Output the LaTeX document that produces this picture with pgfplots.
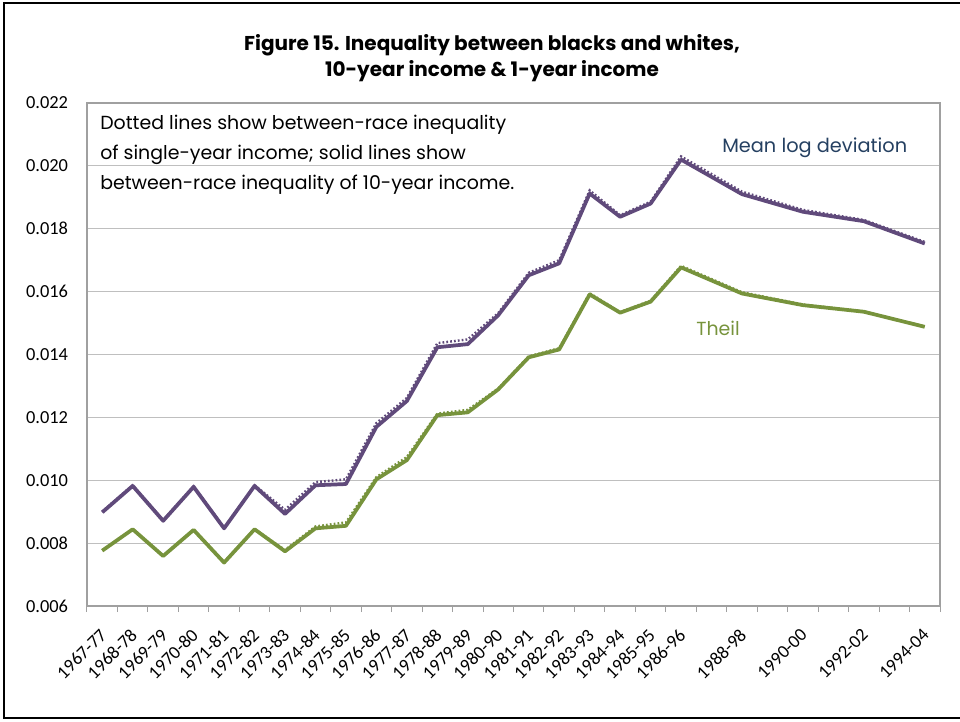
\documentclass[border=0pt]{standalone}
\usepackage{pgfplots}
\pgfplotsset{compat=1.18}
\usepackage{fontspec}
\setmainfont{Carlito}
\newfontfamily\geo{Poppins}
\definecolor{mldpurple}{HTML}{604A7B}
\definecolor{theilgreen}{HTML}{77933C}
\definecolor{navy}{HTML}{254061}
\definecolor{gridgray}{HTML}{BFBFBF}
\definecolor{axisgray}{HTML}{A0A0A0}

\pgfplotstableread{
year mld mlddot theil theildot
1967 0.00898 0.00900 0.00776 0.00777
1968 0.00982 0.00984 0.00844 0.00845
1969 0.00871 0.00873 0.00759 0.00760
1970 0.00979 0.00981 0.00842 0.00843
1971 0.00847 0.00849 0.00738 0.00739
1972 0.00982 0.00984 0.00844 0.00845
1973 0.00893 0.00906 0.00774 0.00778
1974 0.00984 0.00994 0.00847 0.00853
1975 0.00988 0.01003 0.00855 0.00866
1976 0.01170 0.01182 0.01003 0.01010
1977 0.01252 0.01262 0.01064 0.01074
1978 0.01423 0.01436 0.01207 0.01212
1979 0.01433 0.01448 0.01216 0.01224
1980 0.01525 0.01532 0.01289 0.01292
1981 0.01652 0.01660 0.01391 0.01394
1982 0.01690 0.01700 0.01416 0.01420
1983 0.01912 0.01922 0.01591 0.01595
1984 0.01838 0.01843 0.01533 0.01535
1985 0.01880 0.01886 0.01568 0.01571
1986 0.02020 0.02030 0.01677 0.01682
1988 0.01910 0.01918 0.01594 0.01598
1990 0.01854 0.01860 0.01557 0.01559
1992 0.01824 0.01828 0.01536 0.01537
1994 0.01753 0.01758 0.01488 0.01489
}\datatable

\begin{document}
\begin{tikzpicture}[x=0.75pt,y=0.75pt]
\useasboundingbox (0,0) rectangle (960,721);
\draw[black, line width=2pt] (4,718) rectangle (975,3);
\begin{axis}[
  at={(65.25pt,86.25pt)}, anchor=south west,
  scale only axis, width=639.75pt, height=377.25pt,
  xmin=1966.5, xmax=1994.5, ymin=0.006, ymax=0.022,
  ytick={0.006,0.008,0.010,0.012,0.014,0.016,0.018,0.020,0.022},
  scaled y ticks=false,
  yticklabel style={font=\fontsize{13.8}{14}\selectfont, inner sep=0pt, xshift=-14pt,
     /pgf/number format/.cd, fixed, fixed zerofill, precision=3, assume math mode=true},
  xtick={1967,1968,1969,1970,1971,1972,1973,1974,1975,1976,1977,1978,1979,1980,1981,1982,1983,1984,1985,1986,1988,1990,1992,1994},
  xticklabels={1967-77,1968-78,1969-79,1970-80,1971-81,1972-82,1973-83,1974-84,1975-85,1976-86,1977-87,1978-88,1979-89,1980-90,1981-91,1982-92,1983-93,1984-94,1985-95,1986-96,1988-98,1990-00,1992-02,1994-04},
  xticklabel style={font=\fontsize{13.8}{14}\selectfont, yshift=-16pt, xshift=-2.5pt, rotate=45, anchor=north east, inner sep=0pt},
  minor xtick={1966.5,1967.5,...,1994.5},
  major tick length=0pt, minor tick length=4.5pt,
  tick align=outside, xtick pos=bottom, ytick pos=left,
  minor tick style={axisgray, line width=0.75pt},
  ymajorgrids, grid style={gridgray, line width=0.9pt},
  axis line style={axisgray, line width=0.9pt},
  clip=false,
]
\addplot[mldpurple, line width=1.8pt, dash pattern=on 1.3pt off 1.6pt] table[x=year,y=mlddot]{\datatable};
\addplot[theilgreen, line width=1.8pt, dash pattern=on 1.3pt off 1.6pt] table[x=year,y=theildot]{\datatable};
\addplot[mldpurple, line width=2.8pt, line join=round] table[x=year,y=mld]{\datatable};
\addplot[theilgreen, line width=2.8pt, line join=round] table[x=year,y=theil]{\datatable};
\end{axis}
\node[font=\geo\bfseries\fontsize{15}{19}\selectfont, align=center] at (492,663)
  {Figure 15. Inequality between blacks and whites,\\10-year income \& 1-year income};
\node[font=\geo\fontsize{14.2}{22.5}\selectfont, align=left, anchor=north west, inner sep=0pt] at (100,606)
  {Dotted lines show between-race inequality\\of single-year income; solid lines show\\between-race inequality of 10-year income.};
\node[font=\geo\fontsize{14.5}{16}\selectfont, text=navy, anchor=west, inner sep=0pt] at (722,573) {Mean log deviation};
\node[font=\geo\fontsize{14.2}{16}\selectfont, text=theilgreen, anchor=west, inner sep=0pt] at (696,393) {Theil};
\end{tikzpicture}
\end{document}
